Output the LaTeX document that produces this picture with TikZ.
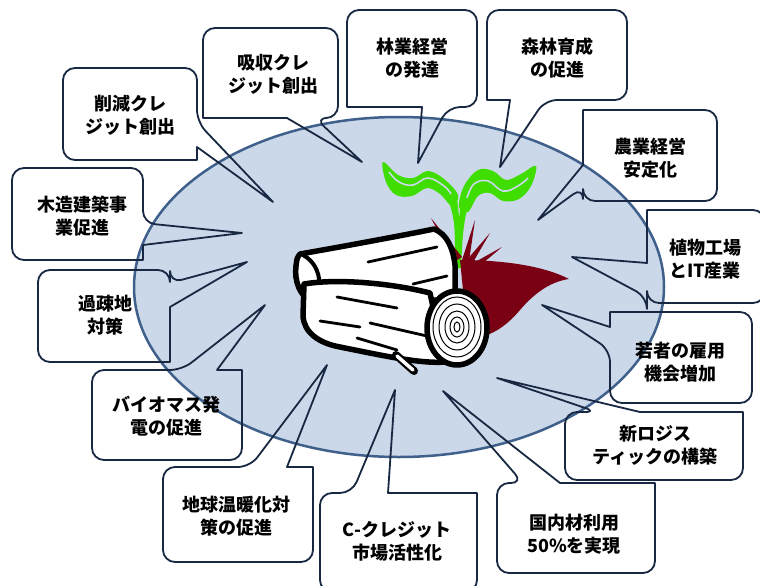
\documentclass[tikz,border=0pt]{standalone}
\usepackage{fontspec}
\newfontfamily\jpfont{Noto Sans CJK JP}
\usetikzlibrary{shapes.geometric}
\definecolor{ellfill}{RGB}{203,216,233}
\definecolor{elldraw}{RGB}{62,96,138}
\definecolor{navy}{RGB}{24,40,66}
\definecolor{leafgreen}{RGB}{64,222,0}
\definecolor{beetred}{RGB}{122,0,20}

\tikzset{
  callout/.style={draw=navy, line width=1.8pt, line join=round},
  lbl/.style={align=center, inner sep=0pt, text=black,
    font=\jpfont\bfseries\fontsize{18}{23}\selectfont},
  hub/.style={ellipse, draw=elldraw, fill=ellfill, line width=2.5pt,
    minimum width=530pt, minimum height=340pt, inner sep=0pt},
  logline/.style={draw=black, line width=5.5pt, line join=round, fill=white},
  bark/.style={draw=black, line width=2.8pt, line cap=round},
}

% rounded box with a pointer on its right / bottom / top / left side
% args: x1 y1 x2 y2 (box), a b (pointer base), tip coordinate
\newcommand{\callR}[7]{%
  \draw[callout] ({(#1+#3)/2},#2) [rounded corners=12pt] -- (#3,#2) -- (#3,#5)
    [sharp corners] -- (#7) -- (#3,#6) -- (#3,#4)
    [rounded corners=12pt] -- (#1,#4) -- (#1,#2) -- cycle;}
\newcommand{\callB}[7]{%
  \draw[callout] ({(#1+#3)/2},#2) [rounded corners=12pt] -- (#3,#2) -- (#3,#4) -- (#6,#4)
    [sharp corners] -- (#7) -- (#5,#4) -- (#1,#4)
    [rounded corners=12pt] -- (#1,#2) -- cycle;}
\newcommand{\callT}[7]{%
  \draw[callout] (#1,{(#2+#4)/2}) [rounded corners=12pt] -- (#1,#2) -- (#5,#2)
    [sharp corners] -- (#7) -- (#6,#2) -- (#3,#2)
    [rounded corners=12pt] -- (#3,#4) -- (#1,#4) -- cycle;}
\newcommand{\callL}[7]{%
  \draw[callout] ({(#1+#3)/2},#2) [rounded corners=12pt] -- (#3,#2) -- (#3,#4) -- (#1,#4) -- (#1,#6)
    [sharp corners] -- (#7) -- (#1,#5) -- (#1,#2)
    [rounded corners=12pt] -- cycle;}

\begin{document}
\begin{tikzpicture}[x=1pt,y=-1pt]
\useasboundingbox (0,0) rectangle (760,586);
\fill[white] (0,0) rectangle (760,586);

% central ellipse
\node[hub] (centre) at (399,287) {};

% pointer tips
\coordinate (pA) at (273,202);
\coordinate (pB) at (362,162);
\coordinate (pC) at (418,163);
\coordinate (pD) at (500,167);
\coordinate (pE) at (538,220);
\coordinate (pF) at (572,257);
\coordinate (pG) at (542,305);
\coordinate (pH) at (497,378);
\coordinate (pI) at (443,391);
\coordinate (pJ) at (395,390);
\coordinate (pK) at (327,365);
\coordinate (pL) at (265,305);
\coordinate (pM) at (247,262);
\coordinate (pN) at (242,233);

% callout outlines
\callR{63}{68}{197}{160}{122}{147}{pA}
\callB{203}{28}{338}{118}{287}{315}{pB}
\callB{347}{10}{477}{107}{422}{448}{pC}
\callB{487}{10}{627}{100}{510}{545}{pD}
\callL{583}{110}{717}{201}{165}{187}{pE}
\callL{647}{210}{765}{303}{263}{297}{pF}
\callL{610}{312}{752}{403}{327}{350}{pG}
\callT{565}{412}{743}{480}{597}{640}{pH}
\callT{497}{483}{655}{573}{523}{560}{pI}
\callT{320}{493}{477}{592}{352}{388}{pJ}
\callT{163}{467}{313}{562}{250}{287}{pK}
\callT{92}{370}{242}{460}{182}{217}{pL}
\callR{38}{270}{170}{362}{283}{307}{pM}
\callR{12}{168}{143}{260}{223}{245}{pN}

% labels
\node[lbl] (tA) at (130,115) {削減クレ\\ジット創出};
\node[lbl] (tB) at (273,74) {吸収クレ\\ジット創出};
\node[lbl] (tC) at (412,58) {林業経営\\の発達};
\node[lbl] (tD) at (557,58) {森林育成\\の促進};
\node[lbl] (tE) at (650,158) {農業経営\\安定化};
\node[lbl] (tF) at (705,259) {植物工場\\とIT産業};
\node[lbl] (tG) at (680,362) {若者の雇用\\機会増加};
\node[lbl] (tH) at (655,445) {新ロジス\\ティックの構築};
\node[lbl] (tI) at (574,534) {国内材利用\\50\%を実現};
\node[lbl] (tJ) at (397,541) {C-クレジット\\市場活性化};
\node[lbl] (tK) at (236,516) {地球温暖化対\\策の促進};
\node[lbl] (tL) at (166,416) {バイオマス発\\電の促進};
\node[lbl] (tM) at (105,315) {過疎地\\対策};
\node[lbl] (tN) at (82,216) {木造建築事\\業促進};

% seedling stems
\fill[leafgreen] (448,198) .. controls (455,222) .. (455,268) -- (460,268) .. controls (460,225) .. (457,198) -- cycle;
\fill[leafgreen] (461,200) .. controls (458,228) .. (457,268) -- (461,268) .. controls (463,228) .. (469,200) -- cycle;

% beet root
\fill[beetred] (460,260) .. controls (495,260) and (540,264) .. (569,279)
  .. controls (548,282) and (532,296) .. (520,310)
  .. controls (508,324) and (497,332) .. (484,336) -- (464,300) -- cycle;
\fill[beetred] (454,262) -- (431,218) -- (462,257) -- cycle;
\fill[beetred] (462,260) -- (475,220) -- (469,261) -- cycle;
\fill[beetred] (465,262) -- (490,233) -- (472,264) -- cycle;
\fill[beetred] (468,266) -- (502,247) -- (476,269) -- cycle;

% leaves
\fill[leafgreen] plot[smooth cycle, tension=0.6] coordinates {
  (383,162) (398,175) (413,178) (428,171) (444,179) (458,195)
  (452,206) (440,194) (427,188) (412,196) (396,195) (386,182)};
\fill[leafgreen] plot[smooth cycle, tension=0.6] coordinates {
  (459,207) (464,186) (478,170) (493,171) (506,180) (521,174) (536,166)
  (531,186) (519,199) (503,201) (490,193) (478,196) (468,212)};
\draw[ellfill, line width=1.6pt] plot[smooth, tension=0.7] coordinates {(389,172) (399,182) (413,185) (428,178) (444,186) (451,194)};
\draw[ellfill, line width=1.6pt] plot[smooth, tension=0.7] coordinates {(467,198) (474,184) (488,181) (503,191) (518,186) (528,178)};

% back log
\filldraw[logline] (300,254) .. controls (340,247) and (400,236) .. (434,229)
  .. controls (447,234) and (453,248) .. (455,265) -- (455,300) -- (312,300)
  .. controls (300,298) and (294,280) .. (296,266) .. controls (297,258) .. cycle;
\draw[line width=4pt] (303,255) .. controls (316,262) and (321,276) .. (319,290);
\draw[bark] (368,262) -- (437,247);
\draw[bark] (413,284) -- (447,276);

% front log
\filldraw[logline] (304,284) .. controls (340,278) and (395,284) .. (430,293) -- (445,362)
  .. controls (420,364) and (380,355) .. (340,347)
  .. controls (318,343) and (304,332) .. (303,316) -- cycle;
\draw[bark] (337,297) -- (397,308);
\draw[bark] (320,321) -- (360,327);
\draw[bark] (370,323) -- (427,336);
\draw[bark] (357,338) -- (397,350);
% twig
\draw[line width=8pt, line cap=round] (396,355) -- (414,371);
\draw[white, line width=3.5pt, line cap=round] (397,356) -- (413,370);
% cut end with rings
\filldraw[logline] (457,328) ellipse [x radius=30, y radius=37];
\foreach \r/\s in {24/30, 18/23, 12/16, 7/10, 3/5}
  \draw[line width=1pt] (457,327) ellipse [x radius=\r, y radius=\s];
\end{tikzpicture}
\end{document}
